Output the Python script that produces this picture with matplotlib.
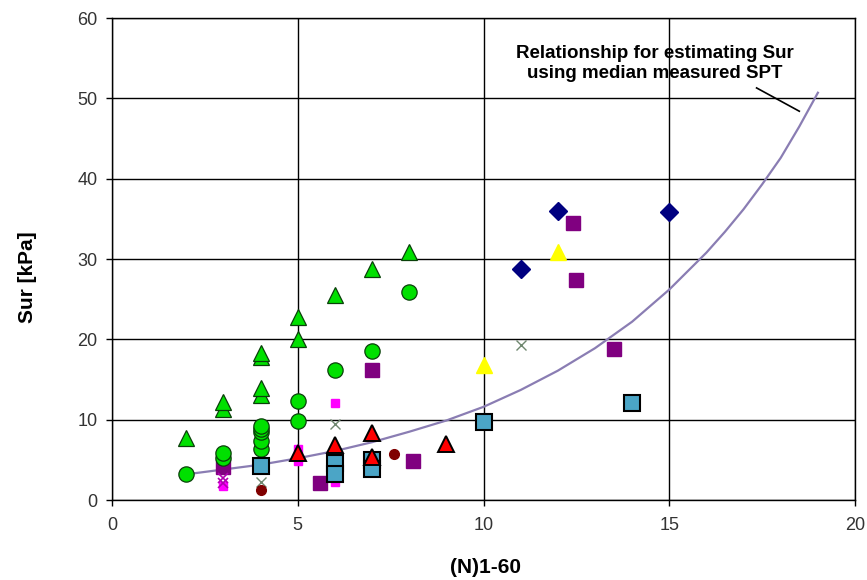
import matplotlib
matplotlib.use("Agg")
from matplotlib import pyplot as plt

plt.rcParams['font.family'] = ['Liberation Sans', 'DejaVu Sans']

# values
green_tri_x = [2, 3, 3, 4, 4, 4, 4, 5, 5, 6, 7, 8]
green_tri_y = [7.7, 11.3, 12.2, 13.1, 13.9, 17.8, 18.3, 20.0, 22.8, 25.5, 28.8, 30.9]

green_circ_x = [2, 3, 3, 4, 4, 4, 4, 4, 5, 5, 6, 7, 8]
green_circ_y = [3.2, 5.2, 5.8, 6.4, 7.4, 8.5, 8.9, 9.2, 9.8, 12.3, 16.2, 18.6, 25.9]

red_tri_x = [5, 6, 7, 7, 9]
red_tri_y = [5.9, 6.9, 8.4, 5.4, 7.0]

blue_sq_x = [4, 6, 6, 7, 7, 10, 14]
blue_sq_y = [4.2, 4.6, 3.3, 5.0, 3.8, 9.7, 12.1]

purple_sq_x = [3, 5.6, 7, 8.1, 12.4, 12.5, 13.5]
purple_sq_y = [4.1, 2.1, 16.2, 4.8, 34.5, 27.4, 18.8]

magenta_sq_x = [3, 5, 5, 6, 6]
magenta_sq_y = [1.8, 6.3, 4.9, 2.3, 12.1]

magenta_x_x = [3, 3]
magenta_x_y = [2.1, 2.8]

grey_x_x = [4, 6, 11]
grey_x_y = [2.3, 9.5, 19.3]

darkred_x = [4, 7.6]
darkred_y = [1.2, 5.7]

diamond_x = [11, 12, 15]
diamond_y = [28.8, 36.0, 35.9]

yellow_x = [10, 12]
yellow_y = [16.8, 30.9]

curve_x = [2, 3, 4, 5, 6, 7, 8, 9, 10, 11, 12, 13, 14, 15, 16, 16.5, 17,
           17.5, 18, 18.5, 19]
curve_y = [3.2, 3.8, 4.4, 5.2, 6.1, 7.2, 8.5, 9.9, 11.6, 13.7, 16.1, 18.9,
           22.2, 26.2, 30.8, 33.4, 36.2, 39.3, 42.6, 46.5, 50.7]

x_ticks = [0, 5, 10, 15, 20]
y_ticks = [0, 10, 20, 30, 40, 50, 60]


def draw():
    fig = plt.figure(figsize=(8.67, 5.8), dpi=100)
    ax = fig.add_axes([0.1292, 0.1379, 0.8570, 0.8310])

    ax.plot(curve_x, curve_y, color='#8a7db3', lw=1.6, zorder=2)

    ax.plot(purple_sq_x, purple_sq_y, 's', ms=10.5, color='#800080', mec='#800080', zorder=3)
    ax.plot(magenta_sq_x, magenta_sq_y, 's', ms=6, color='#ff00ff', mec='#ff00ff', zorder=3)
    ax.plot(magenta_x_x, magenta_x_y, 'x', ms=7, mew=1.2, color='#b000b0', zorder=3)
    ax.plot(grey_x_x, grey_x_y, 'x', ms=7, mew=1.0, color='#6f876f', zorder=3)
    ax.plot(darkred_x, darkred_y, 'o', ms=7, color='#800000', mec='#800000', zorder=3)
    ax.plot(green_circ_x, green_circ_y, 'o', ms=11, color='#00e000', mec='#0a400a', mew=0.9, zorder=4)
    ax.plot(green_tri_x, green_tri_y, '^', ms=12, color='#00e000', mec='#0a400a', mew=0.9, zorder=4)
    ax.plot(yellow_x, yellow_y, '^', ms=11, color='#ffff00', mec='#ffff00', zorder=4)
    ax.plot(diamond_x, diamond_y, 'D', ms=9.5, color='#000080', mec='#000080', zorder=4)
    ax.plot(blue_sq_x, blue_sq_y, 's', ms=11.5, color='#4ba5c6', mec='black', mew=1.5, zorder=5)
    ax.plot(red_tri_x, red_tri_y, '^', ms=12, color='#ff0000', mec='black', mew=1.4, zorder=6)

    ax.set_xlim(0, 20)
    ax.set_ylim(0, 60)
    ax.set_xticks(x_ticks)
    ax.set_yticks(y_ticks)
    ax.grid(True, color='black', lw=1.0, zorder=1)
    ax.set_axisbelow(True)
    for s in ax.spines.values():
        s.set_color('black')
        s.set_linewidth(1.0)
    ax.tick_params(axis='x', direction='out', length=4.5, width=1, pad=8,
                   labelsize=13, labelcolor='#333333')
    ax.tick_params(axis='y', direction='out', length=4.5, width=1, pad=6,
                   labelsize=13, labelcolor='#333333')

    ax.set_xlabel('(N)1-60', fontsize=15, fontweight='bold')
    ax.set_ylabel('Sur [kPa]', fontsize=15, fontweight='bold')
    ax.xaxis.set_label_coords(0.502, -0.12)
    ax.yaxis.set_label_coords(-0.101, 0.463)

    ax.text(14.6, 54.3, 'Relationship for estimating Sur\nusing median measured SPT',
            ha='center', va='center', fontsize=13.5, fontweight='bold',
            linespacing=1.25, zorder=7)
    ax.plot([17.35, 18.5], [51.3, 48.4], color='black', lw=1.2, zorder=7)

    fig.savefig('out.png', dpi=100)


draw()
